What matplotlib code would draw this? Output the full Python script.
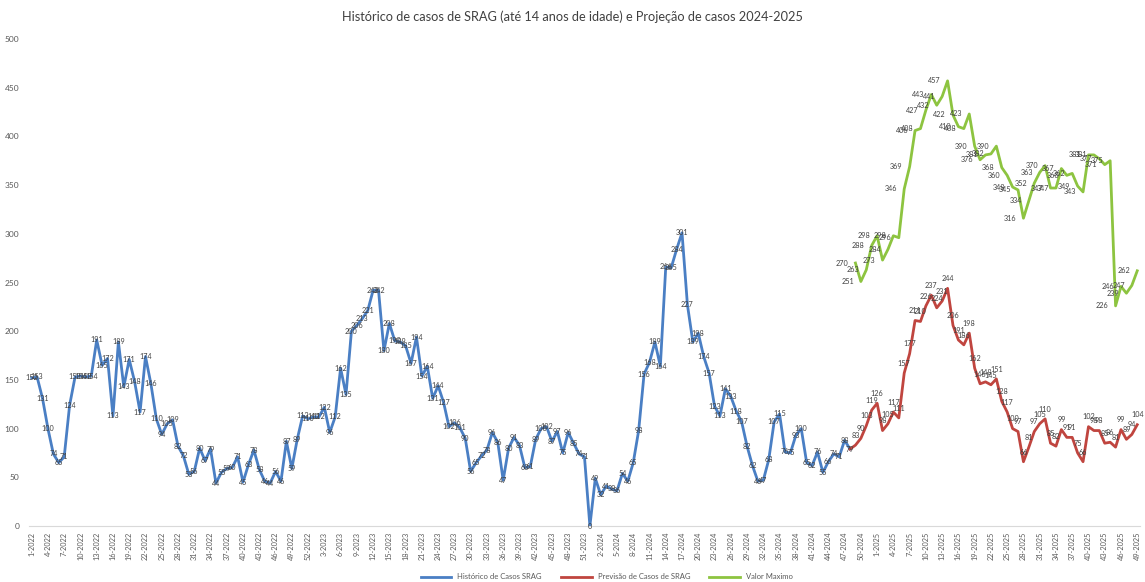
import matplotlib
matplotlib.use("Agg")
import matplotlib.pyplot as plt

plt.rcParams['font.family'] = ['Lato', 'DejaVu Sans']

# weekly categories 1-2022 .. 49-2025 (52 weeks per year)
n_weeks = 205
weeks = [f"{i % 52 + 1}-{2022 + i // 52}" for i in range(n_weeks)]

# historical cases, weeks 1-2022 .. 48-2024
historico = [152, 153, 131, 100, 74, 65, 71, 124, 153, 154, 153, 154, 191, 165, 172, 113,
             189, 143, 171, 148, 117, 174, 146, 110, 94, 105, 109, 82, 72, 53, 56, 80,
             67, 79, 44, 55, 59, 60, 71, 45, 63, 78, 58, 46, 44, 56, 46, 87,
             59, 89, 113, 110, 112, 112, 122, 96, 112, 162, 135, 200, 206, 213, 221, 242,
             242, 180, 208, 190, 189, 185, 167, 194, 154, 164, 131, 144, 127, 102, 106, 101,
             90, 56, 65, 72, 78, 96, 86, 47, 80, 91, 83, 60, 61, 89, 100, 102,
             87, 97, 75, 96, 85, 74, 71, 0, 49, 32, 41, 38, 36, 54, 46, 65,
             98, 156, 168, 189, 164, 266, 265, 284, 301, 227, 189, 198, 174, 157, 123, 113,
             141, 133, 118, 107, 82, 62, 46, 47, 68, 107, 115, 76, 75, 93, 100, 65,
             62, 76, 55, 66, 74, 71, 88, 79]

# forecast and maximum, weeks 49-2024 .. 49-2025
previsao = [83, 90, 103, 119, 126, 98, 105, 117, 111, 157, 177, 211, 210, 226, 237, 224,
            231, 244, 206, 191, 186, 198, 162, 146, 148, 145, 151, 128, 117, 100, 97, 66,
            81, 97, 105, 110, 85, 82, 99, 91, 91, 75, 66, 102, 98, 98, 85, 86,
            81, 99, 89, 94, 104]
maximo = [270, 251, 263, 288, 298, 273, 284, 298, 296, 346, 369, 406, 408, 427, 443, 432,
          441, 457, 422, 410, 408, 423, 390, 376, 381, 382, 390, 368, 360, 348, 345, 316,
          334, 352, 363, 370, 347, 347, 367, 360, 362, 349, 343, 381, 381, 377, 371, 375,
          226, 246, 239, 247, 262]

blue = '#4A7FC4'
red = '#C0453F'
green = '#8DC440'
lbl = '#404040'

fig = plt.figure(figsize=(11.45, 5.82), dpi=100)
ax = fig.add_axes([0.0253, 0.0962, 0.9703, 0.8368])

x_hist = list(range(len(historico)))
start = len(historico)
x_prev = list(range(start, start + len(previsao)))
x_max = list(range(start, start + len(maximo)))

ax.plot(x_hist, historico, color=blue, lw=2.0, label='Histórico de Casos SRAG', zorder=3)
ax.plot([start - 1] + x_prev, [historico[-1]] + previsao, color=red, lw=2.0,
        label='Previsão de Casos de SRAG', zorder=3)
ax.plot(x_max, maximo, color=green, lw=2.0, label='Valor Maximo', zorder=3)

for x, v in zip(x_hist, historico):
    ax.annotate(str(v), (x, v), ha='center', va='center', fontsize=5.2, color=lbl, zorder=4)
for x, v in zip(x_prev, previsao):
    ax.annotate(str(v), (x, v), xytext=(0, 7), textcoords='offset points',
                ha='center', va='center', fontsize=5.2, color=lbl, zorder=4)
for x, v in zip(x_max, maximo):
    ax.annotate(str(v), (x, v), xytext=(-5, 0), textcoords='offset points',
                ha='right', va='center', fontsize=5.2, color=lbl, zorder=4)

ax.set_xlim(-0.5, n_weeks - 0.5)
ax.set_ylim(0, 500)
ax.set_yticks(range(0, 501, 50))
ax.set_xticks(range(0, n_weeks, 3))
ax.set_xticklabels(weeks[::3], rotation=90, fontsize=5.3, color='#595959')
ax.tick_params(axis='y', labelsize=6, labelcolor='#595959', length=0, pad=7)
ax.tick_params(axis='x', length=0, pad=4)

for s in ['top', 'right', 'left']:
    ax.spines[s].set_visible(False)
ax.spines['bottom'].set_color('#D9D9D9')
ax.spines['bottom'].set_linewidth(0.8)

fig.suptitle('Histórico de casos de SRAG (até 14 anos de idade) e Projeção de casos 2024-2025',
             x=0.5, y=0.982, fontsize=9.2, color='#404040')

fig.legend(loc='center', bbox_to_anchor=(0.53, 0.009), ncol=3, frameon=False,
           fontsize=5.5, handlelength=4, columnspacing=2.5, labelcolor='#595959')

fig.savefig('out.png', dpi=100)
